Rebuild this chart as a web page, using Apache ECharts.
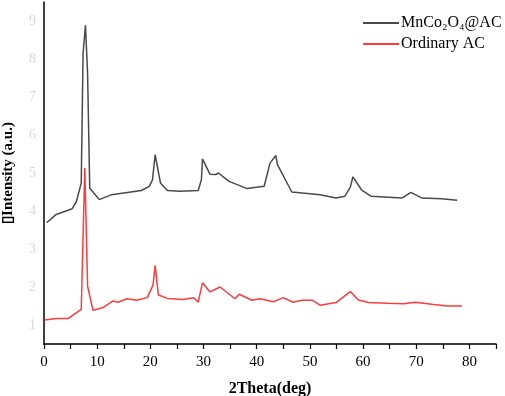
<!DOCTYPE html>
<html>
<head>
<meta charset="utf-8">
<script src="https://cdn.jsdelivr.net/npm/echarts@6/dist/echarts.min.js"></script>
<style>html,body{margin:0;padding:0;background:#fff}#c{width:505px;height:396px}</style>
</head>
<body>
<div id="c"></div>
<script>
const seriesNames = ['MnCo₂O₄@AC', 'Ordinary AC'];
const mnco2o4 = [[0.5,3.69],[2.3,3.91],[5.3,4.06],[6.1,4.25],[7.0,4.74],[7.35,8.15],[7.8,8.89],[8.2,7.6],[8.6,4.6],[10.4,4.3],[12.7,4.43],[18.3,4.54],[19.8,4.65],[20.4,4.82],[20.9,5.48],[21.9,4.74],[23.2,4.54],[25.6,4.52],[29.0,4.54],[29.6,4.82],[29.8,5.37],[31.2,4.97],[32.3,4.96],[32.8,5.0],[34.8,4.78],[38.2,4.59],[41.4,4.65],[42.5,5.26],[43.6,5.46],[43.9,5.22],[46.6,4.50],[51.9,4.43],[54.9,4.34],[56.6,4.39],[57.6,4.63],[58.1,4.90],[59.8,4.54],[61.5,4.39],[67.3,4.34],[69.0,4.49],[71.1,4.34],[74.8,4.32],[77.7,4.28]];
const ordinaryAC = [[0.1,1.13],[2.3,1.17],[4.5,1.17],[7.0,1.41],[7.67,5.13],[8.2,2.02],[9.2,1.39],[11.1,1.46],[12.9,1.63],[13.9,1.60],[15.6,1.69],[17.4,1.65],[19.4,1.72],[20.5,2.05],[20.9,2.57],[21.5,1.79],[23.2,1.70],[26.1,1.67],[28.1,1.72],[29.0,1.60],[29.8,2.11],[31.2,1.87],[33.1,2.0],[35.9,1.69],[36.7,1.81],[39.1,1.65],[40.6,1.69],[43.1,1.61],[45.0,1.72],[46.8,1.60],[48.5,1.65],[50.5,1.65],[51.9,1.52],[54.9,1.59],[57.6,1.88],[59.1,1.66],[61.0,1.59],[64.5,1.57],[67.6,1.56],[69.8,1.60],[73.3,1.54],[75.8,1.50],[78.6,1.50]];
const xTicks = [0,10,20,30,40,50,60,70,80];
const yTicks = [1,2,3,4,5,6,7,8,9];

const serif = '"Liberation Serif", "Times New Roman", serif';
const chart = echarts.init(document.getElementById('c'), null, {renderer:'canvas'});
chart.setOption({
  animation: false,
  backgroundColor: '#fff',
  grid: {left: 44, right: 9, top: 2, bottom: 52, containLabel: false, outerBoundsMode: 'none'},
  legend: {
    orient: 'vertical', left: 358, top: 10, itemGap: 5,
    itemWidth: 36, itemHeight: 2, icon: 'rect',
    textStyle: {fontFamily: serif, fontSize: 16, color: '#000', padding: [0,0,0,-3]},
    data: seriesNames
  },
  xAxis: {
    type: 'value', min: 0, max: 85, interval: 5,
    name: '2Theta(deg)', nameLocation: 'middle', nameGap: 37,
    nameTextStyle: {fontFamily: serif, fontSize: 16, fontWeight: 'bold', color: '#000'},
    axisLine: {lineStyle: {color: '#000', width: 1.5}},
    axisTick: {show: true, length: 5, inside: false, lineStyle: {color: '#000', width: 1.2}},
    axisLabel: {fontFamily: serif, fontSize: 15, color: '#000', margin: 11,
      formatter: v => xTicks.includes(v) ? String(v) : ''},
    splitLine: {show: false}
  },
  yAxis: {
    type: 'value', min: 0.5, max: 9.5, interval: 0.5,
    name: '\u25AFIntensity (a.u.)', nameLocation: 'middle', nameGap: 28, nameRotate: 90,
    nameTextStyle: {fontFamily: serif, fontSize: 15, fontWeight: 'bold', color: '#000'},
    axisLine: {show: true, lineStyle: {color: '#000', width: 1.5}},
    axisTick: {show: false},
    axisLabel: {fontFamily: serif, fontSize: 14, color: '#d8d8d8', margin: 8,
      formatter: v => yTicks.includes(v) ? String(v) : ''},
    splitLine: {show: false}
  },
  series: [
    {name: seriesNames[0], type: 'line', data: mnco2o4, showSymbol: false, symbol: 'none',
      lineStyle: {color: '#4a4a4a', width: 1.5}, itemStyle: {color: '#4a4a4a'}},
    {name: seriesNames[1], type: 'line', data: ordinaryAC, showSymbol: false, symbol: 'none',
      lineStyle: {color: '#ff3b3b', width: 1.5}, itemStyle: {color: '#ff3b3b'}}
  ]
});
</script>
</body>
</html>
